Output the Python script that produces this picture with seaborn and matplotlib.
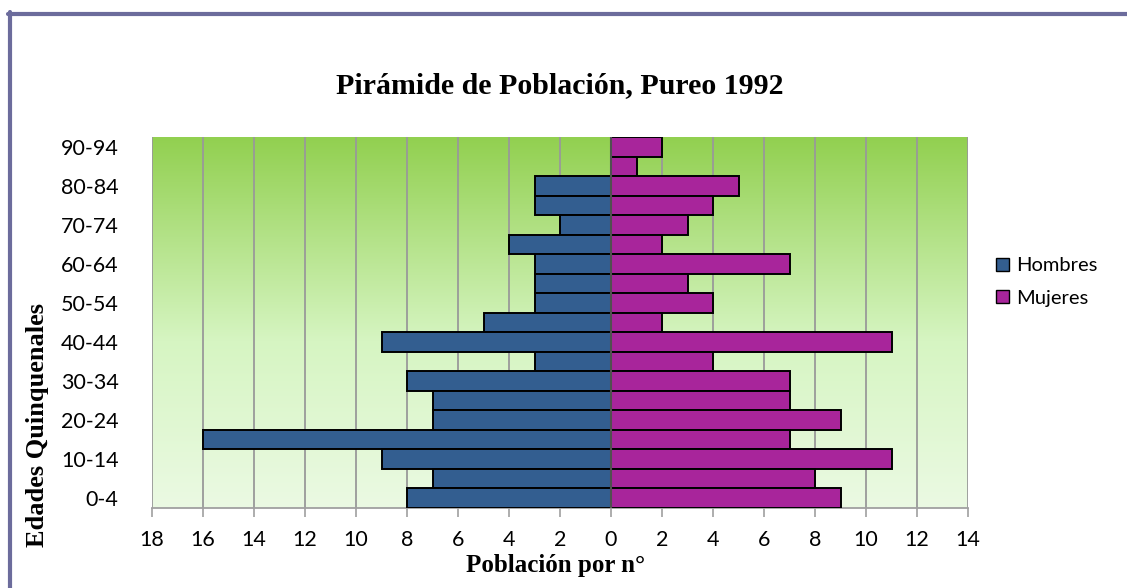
import numpy as np
import pandas as pd
import matplotlib
matplotlib.use("Agg")
import matplotlib.pyplot as plt
from matplotlib.patches import Patch
from matplotlib.lines import Line2D
from matplotlib.colors import LinearSegmentedColormap
import seaborn as sns

# ---- data (bottom to top) ----
age_groups = ["0-4", "5-9", "10-14", "15-19", "20-24", "25-29", "30-34", "35-39",
              "40-44", "45-49", "50-54", "55-59", "60-64", "65-69", "70-74",
              "75-79", "80-84", "85-89", "90-94"]
hombres = [8, 7, 9, 16, 7, 7, 8, 3, 9, 5, 3, 3, 3, 4, 2, 3, 3, 0, 0]
mujeres = [9, 8, 11, 7, 9, 7, 7, 4, 11, 2, 4, 3, 7, 2, 3, 4, 5, 1, 2]
x_ticks = list(range(-18, 15, 2))
series_names = ["Hombres", "Mujeres"]
colors = {"Hombres": "#335e90", "Mujeres": "#a8259b"}

df = pd.concat([
    pd.DataFrame({"Edad": age_groups, "Valor": [-v for v in hombres], "Sexo": "Hombres"}),
    pd.DataFrame({"Edad": age_groups, "Valor": mujeres, "Sexo": "Mujeres"}),
])

sns.set_style("white")
plt.rcParams["font.family"] = ["Lato", "DejaVu Sans"]
plt.rcParams["text.color"] = "black"
plt.rcParams["xtick.labelcolor"] = "black"
plt.rcParams["ytick.labelcolor"] = "black"

W, H = 1127, 588
fig = plt.figure(figsize=(W / 100, H / 100), dpi=100)
L, R, T, B = 152, 968, 137, 508
ax = fig.add_axes([L / W, 1 - B / H, (R - L) / W, (B - T) / H])

order = age_groups[::-1]  # top to bottom
sns.barplot(data=df, x="Valor", y="Edad", hue="Sexo", order=order,
            hue_order=series_names, palette=colors, saturation=1, dodge=False,
            width=1.0, edgecolor="black", linewidth=1.4, orient="h", legend=False,
            ax=ax, zorder=3)

# gradient background
cmap = LinearSegmentedColormap.from_list(
    "bg", [(0.0, "#92d050"), (0.55, "#d6f5c2"), (1.0, "#ebfae3")])
grad = np.linspace(0, 1, 256).reshape(-1, 1)
ax.imshow(grad, cmap=cmap, aspect="auto", extent=[-18, 14, len(age_groups) - 0.5, -0.5],
          zorder=0)
ax.set_xlim(-18, 14)
ax.set_ylim(len(age_groups) - 0.5, -0.5)

# gridlines
for xv in x_ticks:
    ax.axvline(xv, color="#999999", lw=1.3, zorder=1)
ax.axvline(0, color="#505050", lw=1.5, zorder=4)

ax.set_xticks(x_ticks)
ax.set_xticklabels([str(abs(v)) for v in x_ticks], fontsize=15.5)
ax.tick_params(axis="x", direction="out", length=6.5, width=1.2, color="#a0a0a0",
               pad=9, bottom=True, labelcolor="black")
ylabels = [lab if (age_groups.index(lab) % 2 == 0) else "" for lab in order]
ax.set_yticks(range(len(order)))
ax.set_yticklabels(ylabels, fontsize=15.5)
ax.tick_params(axis="y", length=0, pad=24, labelcolor="black")

for s in ["top", "right", "left"]:
    ax.spines[s].set_visible(False)
ax.spines["bottom"].set_color("#a0a0a0")
ax.spines["bottom"].set_linewidth(1.3)
ax.set_xlabel("")
ax.set_ylabel("")

serif = ["Liberation Serif", "DejaVu Serif"]
fig.text(559.5 / W, 1 - 93 / H, "Pirámide de Población, Pureo 1992",
         ha="center", va="baseline", fontsize=21.5, fontweight="bold",
         family=serif, color="black")
fig.text(556 / W, 1 - 572 / H, "Población por n°", ha="center", va="baseline",
         fontsize=18, fontweight="bold", family=serif, color="black")
fig.text(38 / W, 1 - 425 / H, "Edades Quinquenales", ha="center", va="center",
         rotation=90, fontsize=19, fontweight="bold", family=serif, color="black")

# legend
handles = [Patch(facecolor=colors[n], edgecolor="black", linewidth=1.0, label=n)
           for n in series_names]
fig.legend(handles=handles, loc="center left", bbox_to_anchor=(988 / W, 1 - 282 / H),
           frameon=False, fontsize=14.5, handlelength=0.65, handleheight=0.65,
           handletextpad=0.35, labelspacing=0.75, borderaxespad=0,
           labelcolor="black")

# frame (left and top edges)
fc = "#6c6c9c"
fig.add_artist(Line2D([9.5 / W, 9.5 / W], [0, 1 - 12 / H], color=fc, lw=3,
                      transform=fig.transFigure))
fig.add_artist(Line2D([8 / W, 1], [1 - 13.5 / H, 1 - 13.5 / H], color=fc, lw=3,
                      transform=fig.transFigure))

fig.savefig("out.png", dpi=100)
